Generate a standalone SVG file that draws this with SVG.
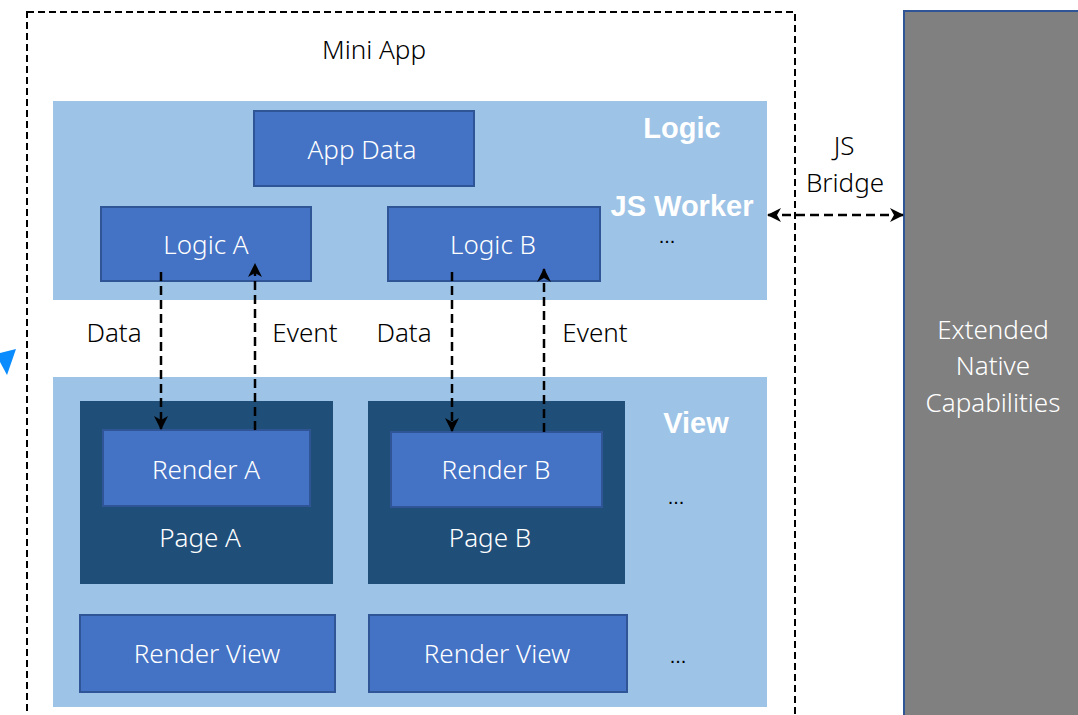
<svg xmlns="http://www.w3.org/2000/svg" width="1078" height="715" viewBox="0 0 1078 715">
<style>
.t{font-family:"Noto Sans","Open Sans","Liberation Sans",sans-serif;font-size:26px;font-weight:300;text-anchor:middle}
.d{font-family:"Liberation Sans",Arial,sans-serif;font-size:20px;text-anchor:middle;fill:#000}
.w{fill:#ffffff}
.k{fill:#000000}
.b{font-family:"Liberation Sans",Arial,sans-serif;font-weight:bold;font-size:29px;fill:#ffffff;text-anchor:middle}
.box{fill:#4472C4;stroke:#2F5597;stroke-width:2}
.panel{fill:#9DC3E6}
.page{fill:#1F4E79}
.conn{fill:none;stroke:#000;stroke-width:2.5;stroke-dasharray:9 5}
</style>
<defs>
<marker id="ah" viewBox="0 0 14 14" refX="13" refY="7" markerWidth="14" markerHeight="14" markerUnits="userSpaceOnUse" orient="auto-start-reverse">
<path d="M0,0 L14,7 L0,14 L4,7 z" fill="#000"/>
</marker>
</defs>
<rect width="1078" height="715" fill="#ffffff"/>
<g id="mini-app">
<rect x="27" y="12" width="768" height="720" fill="none" stroke="#000" stroke-width="2" stroke-dasharray="7 4"/>
<text class="t k" x="374" y="59">Mini App</text>
</g>
<g id="logic-panel">
<rect class="panel" x="53" y="101" width="714" height="199"/>
<text class="b" x="682" y="138">Logic</text>
<text class="b" x="682" y="216">JS Worker</text>
<text class="d" x="667" y="243">...</text>
</g>
<g id="app-data">
<rect class="box" x="254" y="111" width="220" height="75"/>
<text class="t w" x="362" y="159">App Data</text>
</g>
<g id="logic-a">
<rect class="box" x="101" y="207" width="210" height="74"/>
<text class="t w" x="206" y="254">Logic A</text>
</g>
<g id="logic-b">
<rect class="box" x="388" y="207" width="212" height="74"/>
<text class="t w" x="493" y="254">Logic B</text>
</g>
<g id="view-panel">
<rect class="panel" x="53" y="377" width="714" height="330"/>
<text class="b" x="696" y="433">View</text>
<text class="d" x="676" y="504">...</text>
<text class="d" x="678" y="663">...</text>
</g>
<g id="page-a">
<rect class="page" x="80" y="401" width="253" height="183"/>
<text class="t w" x="200" y="547">Page A</text>
</g>
<g id="render-a">
<rect class="box" x="103" y="430" width="207" height="76"/>
<text class="t w" x="206" y="479">Render A</text>
</g>
<g id="page-b">
<rect class="page" x="368" y="401" width="257" height="183"/>
<text class="t w" x="490" y="547">Page B</text>
</g>
<g id="render-b">
<rect class="box" x="391" y="432" width="211" height="75"/>
<text class="t w" x="496" y="479">Render B</text>
</g>
<g id="render-view-1">
<rect class="box" x="80" y="615" width="255" height="77"/>
<text class="t w" x="207" y="663">Render View</text>
</g>
<g id="render-view-2">
<rect class="box" x="369" y="615" width="258" height="77"/>
<text class="t w" x="497" y="663">Render View</text>
</g>
<g id="native">
<rect x="904" y="11" width="190" height="720" fill="#808080" stroke="#2F5597" stroke-width="2"/>
<text class="t w" x="993" y="339">Extended</text>
<text class="t w" x="993" y="375">Native</text>
<text class="t w" x="993" y="412">Capabilities</text>
</g>
<g id="cursor">
<polygon points="16,349 0,353 0,362 7,375" fill="#0A8CFF"/>
</g>
<g id="connectors">
<line class="conn" x1="161" y1="272" x2="161" y2="429" marker-end="url(#ah)"/>
<line class="conn" x1="255" y1="430" x2="255" y2="264" marker-end="url(#ah)"/>
<line class="conn" x1="452" y1="272" x2="452" y2="431" marker-end="url(#ah)"/>
<line class="conn" x1="544" y1="432" x2="544" y2="269" marker-end="url(#ah)"/>
<line class="conn" x1="768" y1="215" x2="903" y2="215" marker-start="url(#ah)" marker-end="url(#ah)"/>
<text class="t k" x="114" y="342">Data</text>
<text class="t k" x="305" y="342">Event</text>
<text class="t k" x="404" y="342">Data</text>
<text class="t k" x="595" y="342">Event</text>
<text class="t k" x="844" y="155">JS</text>
<text class="t k" x="845" y="192">Bridge</text>
</g>
</svg>
